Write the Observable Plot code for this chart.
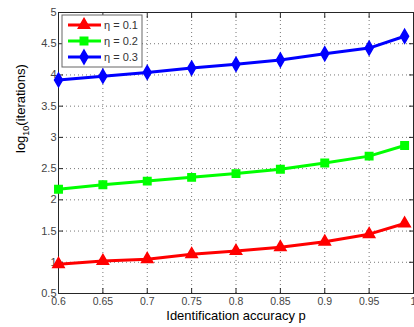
<!DOCTYPE html>
<html>
<head>
<meta charset="utf-8">
<script src="https://cdn.jsdelivr.net/npm/d3@7"></script>
<script src="https://cdn.jsdelivr.net/npm/@observablehq/plot@0.6"></script>
<style>
  html, body { margin: 0; padding: 0; background: #fff; }
  #chart { position: relative; width: 414px; height: 327px; overflow: hidden; }
</style>
</head>
<body>
<div id="chart"></div>
<script>
const p = [0.6, 0.65, 0.7, 0.75, 0.8, 0.85, 0.9, 0.95, 0.99];
const eta01 = [0.97, 1.02, 1.05, 1.13, 1.18, 1.24, 1.33, 1.45, 1.62];
const eta02 = [2.17, 2.24, 2.30, 2.36, 2.42, 2.49, 2.59, 2.70, 2.87];
const eta03 = [3.92, 3.98, 4.04, 4.11, 4.17, 4.24, 4.34, 4.43, 4.62];
const seriesNames = ["η = 0.1", "η = 0.2", "η = 0.3"];
const seriesColors = ["#ff0000", "#00ff00", "#0000ff"];
const seriesSymbols = ["triangle", "square", "diamond"];
const xTicks = [0.6, 0.65, 0.7, 0.75, 0.8, 0.85, 0.9, 0.95, 1];
const yTicks = [0.5, 1, 1.5, 2, 2.5, 3, 3.5, 4, 4.5, 5];
const xLabel = "Identification accuracy p";
const yLabelParts = ["log", "10", "(iterations)"];

const allSeries = [eta01, eta02, eta03];
const rows = [];
allSeries.forEach((vals, si) => vals.forEach((v, i) => rows.push({p: p[i], v, s: seriesNames[si]})));

const axisColor = "#262626";
const marks = [
  Plot.gridX(xTicks, {stroke: "#777", strokeOpacity: 1, strokeDasharray: "1,3"}),
  Plot.gridY(yTicks, {stroke: "#777", strokeOpacity: 1, strokeDasharray: "1,3"}),
  Plot.axisX(xTicks, {anchor: "bottom", label: null, tickSize: -5, tickPadding: 9, fontSize: 10.5, stroke: axisColor, fill: "#444", tickFormat: d => String(d)}),
  Plot.axisX(xTicks, {anchor: "top", label: null, tickSize: -5, text: null, stroke: axisColor}),
  Plot.axisY(yTicks, {anchor: "left", label: null, tickSize: -5, tickPadding: 7, fontSize: 11, stroke: axisColor, fill: "#444", tickFormat: d => String(d)}),
  Plot.axisY(yTicks, {anchor: "right", label: null, tickSize: -5, text: null, stroke: axisColor}),
  Plot.frame({stroke: axisColor})
];
allSeries.forEach((vals, si) => {
  const d = rows.filter(r => r.s === seriesNames[si]);
  marks.push(Plot.line(d, {x: "p", y: "v", stroke: seriesColors[si], strokeWidth: 3}));
  marks.push(Plot.dot(d, {x: "p", y: "v", symbol: () => seriesSymbols[si], fill: seriesColors[si], stroke: seriesColors[si], strokeWidth: 1.5, r: 4.2}));
});
marks.push(Plot.text([xLabel], {frameAnchor: "bottom", dy: 26, fontSize: 13, fill: "#000", text: d => d}));
marks.push(Plot.text(["ylabel"], {frameAnchor: "left", dx: -38, rotate: -90, fontSize: 13, fill: "#000", text: d => d, className: "ylab"}));

const chart = Plot.plot({
  width: 414,
  height: 327,
  marginLeft: 58,
  marginRight: 1,
  marginTop: 12,
  marginBottom: 34,
  style: {fontFamily: "'Liberation Sans', Arial, sans-serif", fontSize: "11px", background: "#fff", overflow: "visible"},
  x: {domain: [0.6, 1], label: null},
  y: {domain: [0.5, 5], label: null},
  symbol: {domain: seriesSymbols, range: seriesSymbols},
  marks
});
document.getElementById("chart").appendChild(chart);

// y label with subscript
const svg = d3.select(chart);
svg.selectAll("g.ylab text").each(function() {
  const t = d3.select(this);
  t.text(null);
  t.append("tspan").text(yLabelParts[0]);
  t.append("tspan").attr("font-size", 9).attr("dy", 4).text(yLabelParts[1]);
  t.append("tspan").attr("dy", -4).text(yLabelParts[2]);
});

// legend
const lg = svg.append("g").attr("transform", "translate(62,15)").attr("text-anchor", "start");
lg.append("rect").attr("width", 80).attr("height", 52).attr("fill", "#fff").attr("stroke", "#666").attr("stroke-width", 1);
const symMap = {triangle: d3.symbolTriangle, square: d3.symbolSquare, diamond: d3.symbolDiamond};
seriesNames.forEach((name, i) => {
  const y = 10 + i * 16;
  const g = lg.append("g").attr("transform", `translate(0,${y})`);
  g.append("line").attr("x1", 6).attr("x2", 39).attr("stroke", seriesColors[i]).attr("stroke-width", 3);
  g.append("path").attr("transform", "translate(22,0)")
    .attr("d", d3.symbol(symMap[seriesSymbols[i]], 4.2 * 4.2 * Math.PI)())
    .attr("fill", seriesColors[i]).attr("stroke", seriesColors[i]).attr("stroke-width", 1.5);
  g.append("text").attr("x", 42).attr("dy", "0.35em").attr("text-anchor", "start").attr("fill", "#333").attr("font-size", 11).text(name);
});
</script>
</body>
</html>
